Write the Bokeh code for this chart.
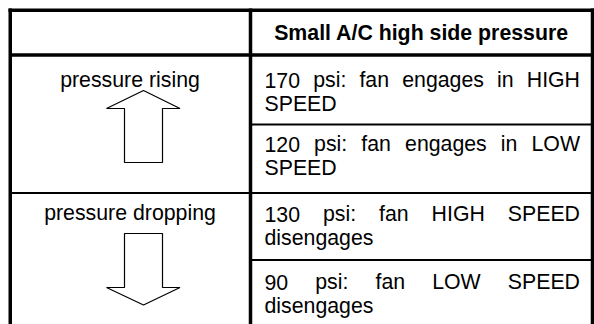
from bokeh.plotting import figure
from bokeh.models import Range1d
from bokeh.core.properties import value
from bokeh.embed import file_html
from bokeh.resources import INLINE

# ---- table content ----
header = "Small A/C high side pressure"
directions = ["pressure rising", "pressure dropping"]
cell_line1 = ["170 psi: fan engages in HIGH",
              "120 psi: fan engages in LOW",
              "130 psi: fan HIGH SPEED",
              "90 psi: fan LOW SPEED"]
cell_line2 = ["SPEED", "SPEED", "disengages", "disengages"]

# ---- layout (page pixels) ----
FONT = "Liberation Sans"
FS = 21.3
MID = 7.4          # baseline minus em-box middle for this font size
W_PAGE, H_PAGE = 594, 324
X_L, X_DIV, X_R = 9.75, 250.0, 592.0
Y_T, Y_HEAD = 9.75, 54.5
row_lines = [124.0, 192.5, 259.5]
row_base = [87.0, 151.0, 221.0, 289.0]
LEAD = 24.0
TX0, TX1 = 264.0, 579.5
LEFT_CX = 129.5

# Arial / Liberation Sans advance widths (1/1000 em)
ADV = {' ': 278, '0': 556, '1': 556, '2': 556, '3': 556, '7': 556, '9': 556,
       ':': 278, 'a': 556, 'd': 556, 'e': 556, 'f': 278, 'g': 556, 'i': 222,
       'n': 556, 'p': 556, 's': 500, 'E': 667, 'D': 722, 'G': 778, 'H': 722,
       'I': 278, 'L': 556, 'O': 778, 'P': 667, 'S': 667, 'W': 944}


def tw(s):
    return sum(ADV.get(c, 556) for c in s) * FS / 1000.0


p = figure(width=W_PAGE, height=H_PAGE,
           x_range=Range1d(0, W_PAGE), y_range=Range1d(H_PAGE, 0),
           output_backend="svg", toolbar_location=None, min_border=0)
p.axis.visible = False
p.grid.visible = False
p.outline_line_color = None
p.background_fill_color = "white"
p.border_fill_color = "white"

# ---- table rules ----
THICK, THIN = 3.5, 2.0
p.segment(x0=[8, X_L, X_DIV, X_R, X_L], y0=[Y_T, 8, 8, 8, Y_HEAD],
          x1=[W_PAGE, X_L, X_DIV, X_R, X_R], y1=[Y_T, H_PAGE, H_PAGE, H_PAGE, Y_HEAD],
          line_color="black", line_width=THICK)
p.segment(x0=[X_DIV, X_L, X_DIV], y0=row_lines,
          x1=[X_R, X_R, X_R], y1=row_lines,
          line_color="black", line_width=THIN)

# ---- arrows ----
up_x = [124, 124, 106, 143, 179.5, 162, 162]
up_y = [162, 108, 108, 90, 108, 108, 162]
dn_x = [124, 124, 106, 143, 179.5, 162, 162]
dn_y = [233, 287, 287, 304.5, 287, 287, 233]
for xs, ys in ((up_x, up_y), (dn_x, dn_y)):
    p.patch(xs, ys, fill_color="white", line_color="black", line_width=1.2)

common = dict(text_font=value(FONT), text_font_size=f"{FS}px",
              text_baseline="middle", text_color="black")

# header
p.text(x=[(X_DIV + X_R) / 2], y=[39.5 - MID], text=[header], text_align="center",
       text_font_style="bold", **common)

# left column labels
p.text(x=[LEFT_CX, LEFT_CX], y=[row_base[0] - MID, row_base[2] - 1 - MID],
       text=directions, text_align="center", **common)

# right column, justified first lines
wx, wy, wt = [], [], []
for line, yb in zip(cell_line1, row_base):
    words = line.split(" ")
    total = sum(tw(w) for w in words)
    gap = (TX1 - TX0 - total) / (len(words) - 1)
    x = TX0
    for w in words:
        wx.append(x)
        wy.append(yb - MID)
        wt.append(w)
        x += tw(w) + gap
for line, yb in zip(cell_line2, row_base):
    wx.append(TX0)
    wy.append(yb + LEAD - MID)
    wt.append(line)
p.text(x=wx, y=wy, text=wt, text_align="left", **common)

open("out.html", "w").write(file_html(p, INLINE))
